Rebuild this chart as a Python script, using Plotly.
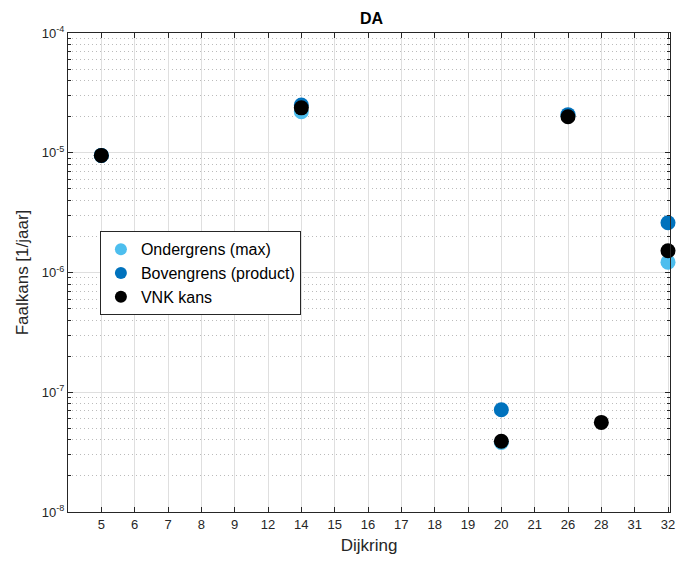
import plotly.graph_objects as go

categories = ["5", "6", "7", "8", "9", "12", "14", "15", "16", "17", "18", "19", "20", "21", "26", "28", "31", "32"]
ondergrens = [9.5e-6, None, None, None, None, None, 2.2e-5, None, None, None, None, None, 3.8e-8, None, 2.05e-5, None, None, 1.22e-6]
bovengrens = [9.5e-6, None, None, None, None, None, 2.5e-5, None, None, None, None, None, 7.15e-8, None, 2.08e-5, None, None, 2.6e-6]
vnk = [9.5e-6, None, None, None, None, None, 2.37e-5, None, None, None, None, None, 3.9e-8, None, 2.0e-5, 5.6e-8, None, 1.52e-6]

xpos = list(range(1, len(categories) + 1))

fig = go.Figure()
for name, vals, col in [("Ondergrens (max)", ondergrens, "#4DBEEE"),
                        ("Bovengrens (product)", bovengrens, "#0072BD"),
                        ("VNK kans", vnk, "#000000")]:
    xs = [x for x, v in zip(xpos, vals) if v is not None]
    ys = [v for v in vals if v is not None]
    fig.add_trace(go.Scatter(x=xs, y=ys, mode="markers", name=name, cliponaxis=False,
                             marker=dict(color=col, size=15, line=dict(width=0))))

font = "Liberation Sans, Arial, Helvetica, sans-serif"
fig.update_layout(
    width=680, height=563,
    margin=dict(l=68, r=5, t=33, b=51),
    paper_bgcolor="white", plot_bgcolor="white",
    font=dict(family=font, color="#262626"),
    title=dict(text="<b>DA</b>", x=(68 + 303.5) / 680, xanchor="center", y=1 - 18 / 563, yanchor="middle",
               font=dict(size=16, color="#000000")),
    showlegend=True,
    legend=dict(x=0.053, y=0.586, xanchor="left", yanchor="top",
                bgcolor="white", bordercolor="#262626", borderwidth=1,
                font=dict(size=16, color="#000000"), itemsizing="constant",
                tracegroupgap=0),
)
fig.update_xaxes(
    range=[0, 18.06], tickmode="array", tickvals=xpos, ticktext=categories,
    ticklabeloverflow="allow",
    showgrid=True, gridcolor="#DFDFDF", gridwidth=1,
    ticks="inside", ticklen=5, tickcolor="#262626",
    showline=True, linecolor="#262626", linewidth=1, mirror="ticks",
    tickfont=dict(size=13, color="#262626"),
    title=dict(text="Dijkring", font=dict(size=17, color="#262626"), standoff=8),
    zeroline=False,
)
fig.update_yaxes(
    type="log", range=[-8, -4],
    tickmode="array", tickvals=[1e-8, 1e-7, 1e-6, 1e-5, 1e-4],
    ticktext=["10<sup>-8</sup>", "10<sup>-7</sup>", "10<sup>-6</sup>", "10<sup>-5</sup>", "10<sup>-4</sup>"],
    showgrid=True, gridcolor="#DFDFDF", gridwidth=1,
    ticks="inside", ticklen=5, tickcolor="#262626",
    minor=dict(ticks="inside", ticklen=3, tickcolor="#262626", showgrid=True,
               gridcolor="#BBBBBB", griddash="1px,3px", gridwidth=1,
               tickvals=[m * 10.0 ** e for e in range(-8, -4) for m in range(2, 10)]),
    showline=True, linecolor="#262626", linewidth=1, mirror="ticks",
    tickfont=dict(size=13, color="#262626"),
    title=dict(text="Faalkans [1/jaar]", font=dict(size=17, color="#262626"), standoff=8),
    zeroline=False,
)

fig.write_html("out.html")
